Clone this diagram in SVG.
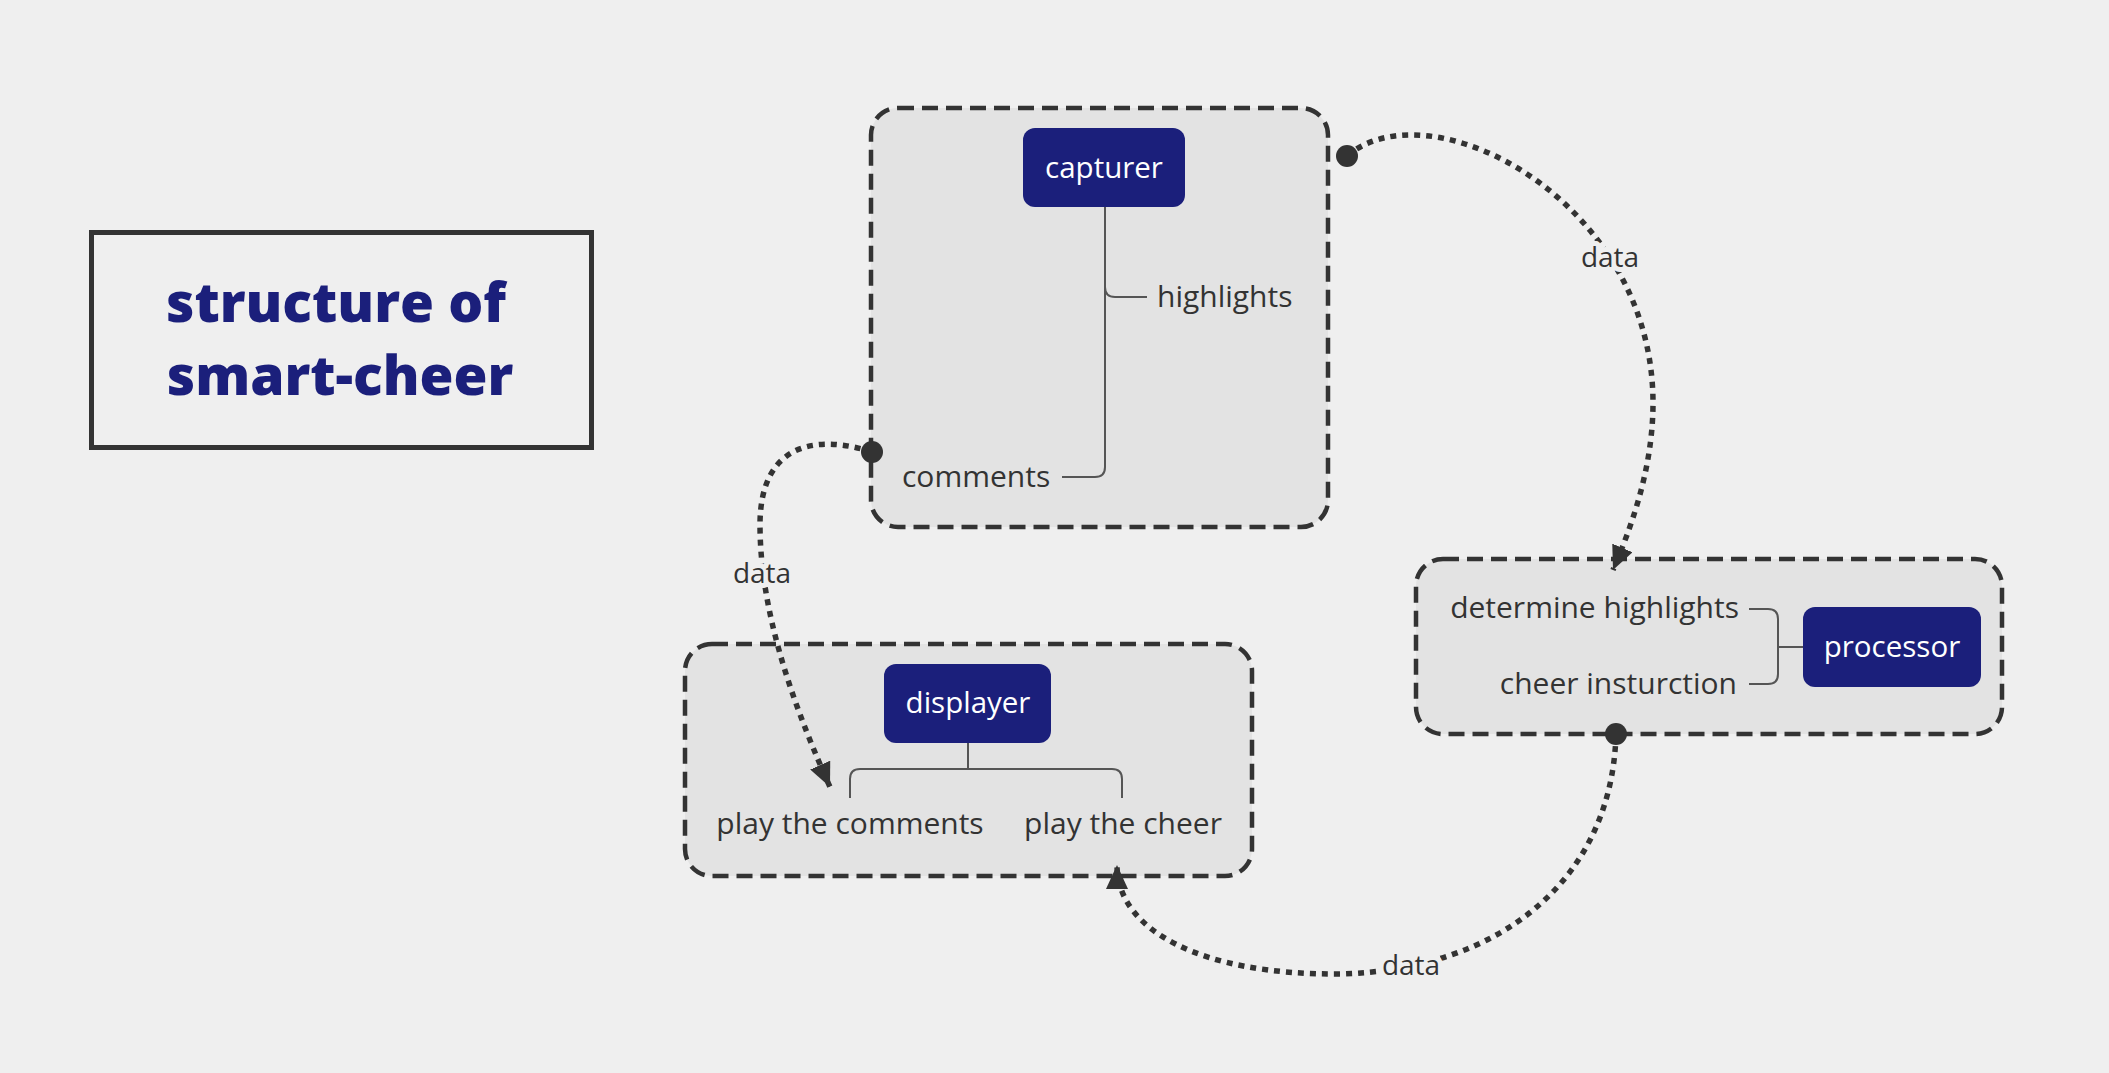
<svg xmlns="http://www.w3.org/2000/svg" width="2109" height="1073" viewBox="0 0 2109 1073">
<style>
.grp{fill:#e3e3e3;stroke:#333;stroke-width:4.5;stroke-dasharray:16 8}
.node{fill:#1b1f7b}
.ntext{font-family:"Open Sans",sans-serif;font-weight:500;font-size:29.5px;fill:#fff;text-anchor:middle}
.leaf{font-family:"Open Sans",sans-serif;font-size:30px;fill:#333}
.tree{fill:none;stroke:#555;stroke-width:2}
.flow{fill:none;stroke:#333;stroke-width:5.5;stroke-dasharray:6 6}
.lbl{font-family:"Open Sans",sans-serif;font-size:28px;fill:#333;text-anchor:middle;stroke:#efefef;stroke-width:10;paint-order:stroke;stroke-linejoin:round}
.title{font-family:"Open Sans",sans-serif;font-weight:800;font-size:55px;fill:#1b1f7b;text-anchor:middle}
</style>
<defs>
<marker id="arr" markerUnits="userSpaceOnUse" markerWidth="24" markerHeight="22" refX="24" refY="11" orient="auto">
<path d="M0,0 L24,11 L0,22 z" fill="#333"/>
</marker>
</defs>
<rect x="0" y="0" width="2109" height="1073" fill="#efefef"/>

<g id="title">
<rect x="91.5" y="232.5" width="500" height="215" fill="none" stroke="#333" stroke-width="5"/>
<text class="title" x="336" y="322">structure of</text>
<text class="title" x="340" y="395">smart-cheer</text>
</g>

<g id="capturer-group">
<rect class="grp" x="871" y="108" width="457" height="419" rx="27"/>
<g id="capturer">
<rect class="node" x="1023" y="128" width="162" height="79" rx="12"/>
<text class="ntext" x="1104" y="178">capturer</text>
</g>
<path class="tree" d="M1105,207 V467 Q1105,477 1095,477 H1062 M1105,287 Q1105,297 1115,297 H1147"/>
<text id="highlights" class="leaf" x="1157" y="307">highlights</text>
<text id="comments" class="leaf" x="902" y="487">comments</text>
</g>

<g id="processor-group">
<rect class="grp" x="1416" y="559" width="586" height="175" rx="27"/>
<g id="processor">
<rect class="node" x="1803" y="607" width="178" height="80" rx="12"/>
<text class="ntext" x="1892" y="657">processor</text>
</g>
<path class="tree" d="M1803,647 H1778 M1749,609 H1768 Q1778,609 1778,619 V674 Q1778,684 1768,684 H1749"/>
<text id="determine" class="leaf" x="1739" y="618" text-anchor="end">determine highlights</text>
<text id="cheer-ins" class="leaf" x="1737" y="694" text-anchor="end">cheer insturction</text>
</g>

<g id="displayer-group">
<rect class="grp" x="685" y="644" width="567" height="232" rx="27"/>
<g id="displayer">
<rect class="node" x="884" y="664" width="167" height="79" rx="12"/>
<text class="ntext" x="968" y="713">displayer</text>
</g>
<path class="tree" d="M968,743 V769 M850,798 V779 Q850,769 860,769 H1112 Q1122,769 1122,779 V798"/>
<text id="play-comments" class="leaf" x="850" y="834" text-anchor="middle">play the comments</text>
<text id="play-cheer" class="leaf" x="1123" y="834" text-anchor="middle">play the cheer</text>
</g>

<g id="connectors">
<path class="flow" d="M1347,156 C1430,85 1653,200 1653,403 C1653,470 1630,530 1613,570" marker-end="url(#arr)"/>
<circle cx="1347" cy="156" r="11" fill="#333"/>
<text class="lbl" x="1610" y="267">data</text>

<path class="flow" d="M872,452 C820,435 760,440 760,525 C760,620 800,720 830,787" marker-end="url(#arr)"/>
<circle cx="872" cy="452" r="11" fill="#333"/>
<text class="lbl" x="762" y="583">data</text>

<path class="flow" d="M1616,734 C1612,880 1500,970 1340,974 C1200,975 1117,930 1117,865" marker-end="url(#arr)"/>
<circle cx="1616" cy="734" r="11" fill="#333"/>
<text class="lbl" x="1411" y="975">data</text>
</g>
</svg>
